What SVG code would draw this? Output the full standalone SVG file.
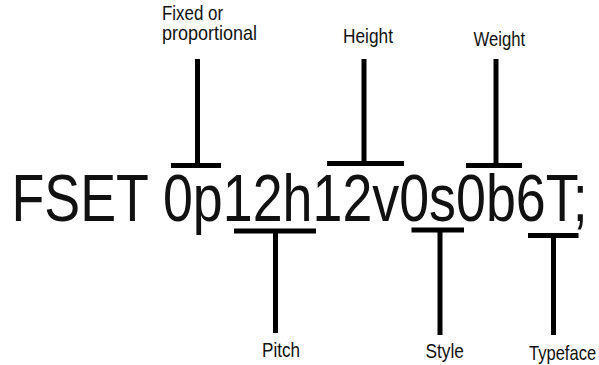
<svg xmlns="http://www.w3.org/2000/svg" width="599" height="365" viewBox="0 0 599 365">
  <style>
    text { font-family: "Liberation Sans", Arial, sans-serif; fill: #111; }
    .lbl { font-size: 20px; }
    .main { font-size: 67px; }
    .bar { stroke: #000; stroke-width: 5; fill: none; stroke-linecap: butt; }
  </style>
  <rect width="599" height="365" fill="#fff"/>
  <g id="command">
    <text class="main" transform="translate(11.5,221) scale(0.8028,1)">FSET 0p12h12v0s0b6T;</text>
  </g>
  <g id="connectors">
    <line class="bar" x1="197.5" y1="59" x2="197.5" y2="165.5"/>
    <line class="bar" x1="171" y1="165.5" x2="221" y2="165.5"/>
    <line class="bar" x1="364" y1="59" x2="364" y2="163.5"/>
    <line class="bar" x1="327" y1="163.5" x2="404" y2="163.5"/>
    <line class="bar" x1="496" y1="59" x2="496" y2="165.5"/>
    <line class="bar" x1="466" y1="165.5" x2="522" y2="165.5"/>
    <line class="bar" x1="234" y1="231" x2="316" y2="231"/>
    <line class="bar" x1="275.5" y1="231" x2="275.5" y2="333"/>
    <line class="bar" x1="411.5" y1="230" x2="464" y2="230"/>
    <line class="bar" x1="440" y1="230" x2="440" y2="335"/>
    <line class="bar" x1="528" y1="235.5" x2="578.5" y2="235.5"/>
    <line class="bar" x1="553.5" y1="235.5" x2="553.5" y2="335"/>
  </g>
  <g id="fixed-or-proportional">
    <text class="lbl" transform="translate(162,20) scale(0.845,1)">Fixed or</text>
    <text class="lbl" transform="translate(162,40) scale(0.9,1)">proportional</text>
  </g>
  <g id="height">
    <text class="lbl" transform="translate(343,43) scale(0.865,1)">Height</text>
  </g>
  <g id="weight">
    <text class="lbl" transform="translate(473.5,46) scale(0.835,1)">Weight</text>
  </g>
  <g id="pitch">
    <text class="lbl" transform="translate(262,357) scale(0.855,1)">Pitch</text>
  </g>
  <g id="style">
    <text class="lbl" transform="translate(425.5,357.5) scale(0.866,1)">Style</text>
  </g>
  <g id="typeface">
    <text class="lbl" transform="translate(529,360) scale(0.827,1)">Typeface</text>
  </g>
</svg>
